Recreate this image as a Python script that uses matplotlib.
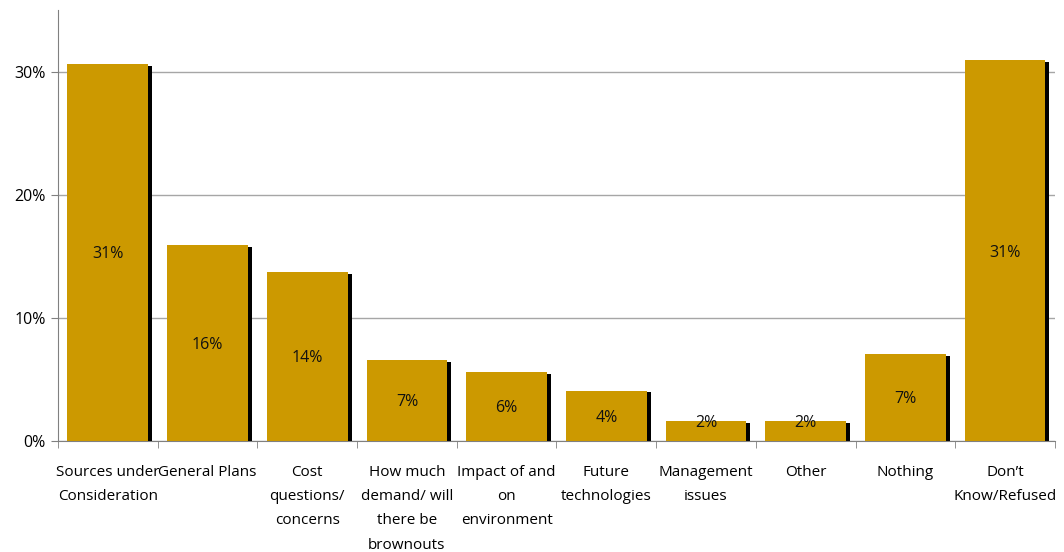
import numpy as np
import matplotlib.pyplot as plt

# Kategorien und Anteile (in Prozent)
kategorien = ["Sources under\nConsideration", "General Plans", "Cost\nquestions/\nconcerns",
              "How much\ndemand/ will\nthere be\nbrownouts", "Impact of and\non\nenvironment",
              "Future\ntechnologies", "Management\nissues", "Other", "Nothing",
              "Don\u2019t\nKnow/Refused"]
werte = [30.6, 15.9, 13.7, 6.6, 5.6, 4.1, 1.6, 1.6, 7.1, 30.9]
y_ticks = [0, 10, 20, 30]

plt.rcParams['font.family'] = ['Open Sans', 'DejaVu Sans']

fig = plt.figure(figsize=(10.64, 5.52), dpi=100)
ax = fig.add_axes([0.0545, 0.2011, 0.937, 0.7808])

x = np.arange(len(werte))
breite = 0.81

# Schatten rechts unten, dann die eigentlichen Balken
schatten = [max(v - 0.16, 0) for v in werte]
ax.bar(x + 0.04, schatten, width=breite, color='black', zorder=2)
ax.bar(x, werte, width=breite, color='#CC9900', zorder=3)

for xi, v in zip(x, werte):
    ax.text(xi, max(v / 2 - 0.15, 1.5), f"{round(v):.0f}%", ha='center', va='center',
            fontsize=11.5, color='#111111', zorder=4)

ax.set_xlim(-0.5, len(werte) - 0.5)
ax.set_ylim(0, 35)

ax.set_yticks(y_ticks)
ax.set_yticklabels([f"{t}%" for t in y_ticks], fontsize=11.5)
ax.yaxis.grid(True, color='#A6A6A6', linewidth=1, zorder=0)
ax.set_axisbelow(True)

ax.set_xticks(x)
ax.set_xticklabels(kategorien, fontsize=11, linespacing=1.85, va='top')
ax.set_xticks(np.arange(len(werte) + 1) - 0.5, minor=True)
ax.tick_params(axis='x', which='major', length=0, pad=17)
ax.tick_params(axis='x', which='minor', length=5, color='#808080', direction='out')
ax.tick_params(axis='y', length=5, color='#808080', direction='out', pad=4)

for s in ['top', 'right']:
    ax.spines[s].set_visible(False)
for s in ['left', 'bottom']:
    ax.spines[s].set_color('#808080')

fig.savefig('out.png', dpi=100)
